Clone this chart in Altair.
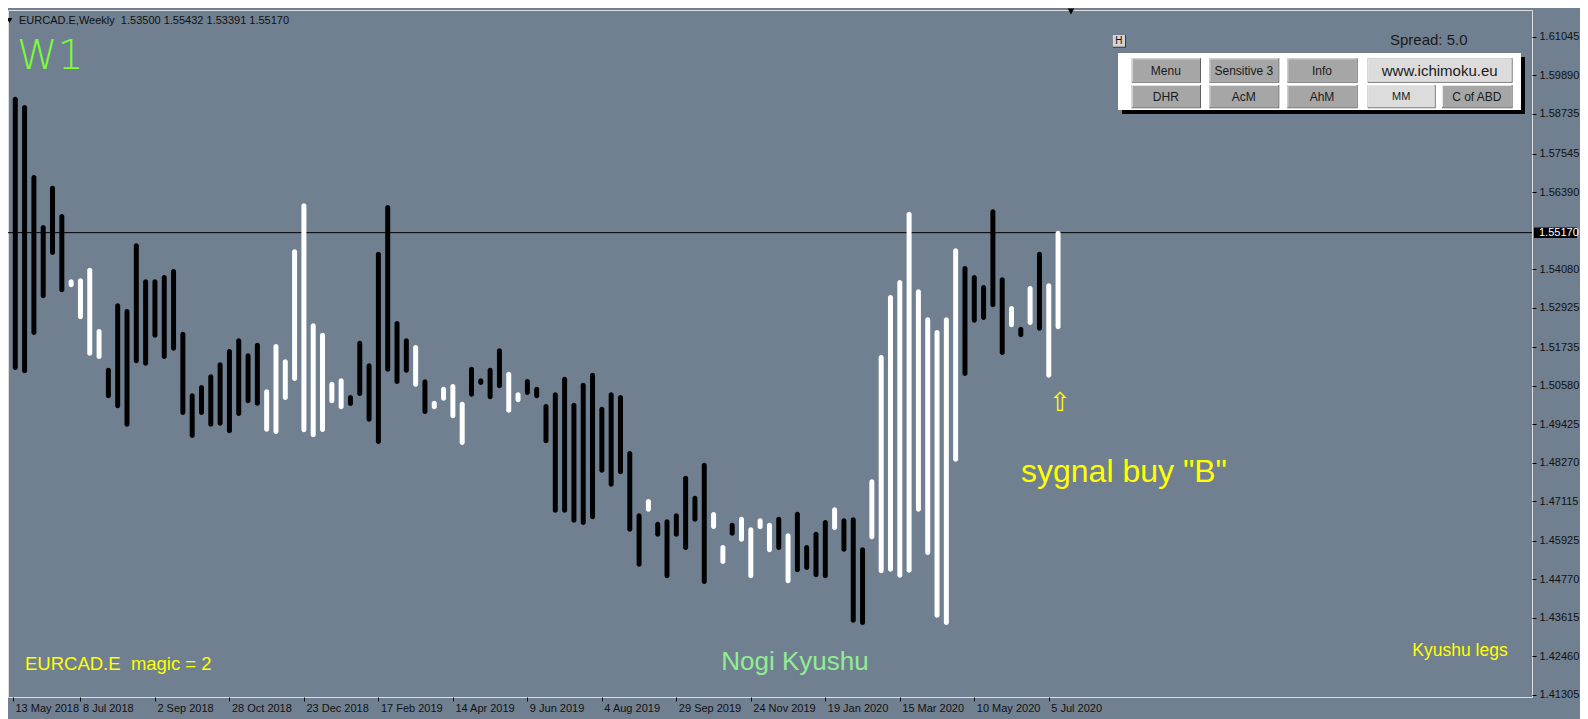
import altair as alt
import pandas as pd

# ---------------- data ----------------
symbol = "EURCAD.E"
timeframe = "Weekly"
ohlc = [1.53500, 1.55432, 1.53391, 1.55170]   # open, high, low, close of last bar
last_price = 1.55170

# weekly legs, first bar = week 1 (20 May 2018), week 0 = 13 May 2018
leg_high = [
    1.5925, 1.5900, 1.5690, 1.5540, 1.5658, 1.5573, 1.5377, 1.5380, 1.5412, 1.5228,
    1.5112, 1.5305, 1.5288, 1.5485, 1.5377, 1.5377, 1.5390, 1.5408, 1.5220, 1.5035,
    1.5060, 1.5092, 1.5128, 1.5168, 1.5200, 1.5155, 1.5187, 1.5047, 1.5183, 1.5137,
    1.5467, 1.5605, 1.5245, 1.5217, 1.5070, 1.5080, 1.5030, 1.5193, 1.5125, 1.5460,
    1.5600, 1.5252, 1.5200, 1.5180, 1.5077, 1.5013, 1.5055, 1.5063, 1.5010, 1.5115,
    1.5080, 1.5112, 1.5170, 1.5100, 1.5038, 1.5078, 1.5055, 1.5003, 1.5038, 1.5085,
    1.5007, 1.5067, 1.5097, 1.4995, 1.5038, 1.5030, 1.4862, 1.4675, 1.4718, 1.4650,
    1.4657, 1.4675, 1.4788, 1.4728, 1.4827, 1.4679, 1.4580, 1.4647, 1.4665, 1.4633,
    1.4660, 1.4647, 1.4665, 1.4615, 1.4680, 1.4580, 1.4620, 1.4655, 1.4693, 1.4660,
    1.4663, 1.4573, 1.4777, 1.5150, 1.5330, 1.5375, 1.5580, 1.5347, 1.5263, 1.5225,
    1.5263, 1.5470, 1.5417, 1.5390, 1.5360, 1.5587, 1.5383, 1.5297, 1.5235, 1.5357,
    1.5460, 1.5365, 1.5523,
]
leg_low = [
    1.5105, 1.5095, 1.5210, 1.5320, 1.5450, 1.5338, 1.5353, 1.5257, 1.5148, 1.5138,
    1.5020, 1.4990, 1.4935, 1.5125, 1.5118, 1.5202, 1.5138, 1.5163, 1.4970, 1.4901,
    1.4970, 1.4935, 1.4938, 1.4915, 1.4967, 1.5005, 1.4998, 1.4920, 1.4913, 1.5015,
    1.5072, 1.4918, 1.4903, 1.4919, 1.5005, 1.4987, 1.4997, 1.5027, 1.4950, 1.4883,
    1.5100, 1.5063, 1.5097, 1.5055, 1.4973, 1.4987, 1.5013, 1.4960, 1.4880, 1.5025,
    1.5060, 1.5017, 1.5050, 1.4977, 1.5008, 1.5030, 1.5020, 1.4885, 1.4677, 1.4677,
    1.4647, 1.4640, 1.4657, 1.4797, 1.4755, 1.4792, 1.4620, 1.4515, 1.4680, 1.4605,
    1.4480, 1.4605, 1.4565, 1.4650, 1.4463, 1.4628, 1.4523, 1.4608, 1.4590, 1.4480,
    1.4627, 1.4558, 1.4565, 1.4465, 1.4498, 1.4505, 1.4483, 1.4480, 1.4625, 1.4560,
    1.4347, 1.4340, 1.4597, 1.4495, 1.4500, 1.4482, 1.4497, 1.4680, 1.4550, 1.4362,
    1.4340, 1.4830, 1.5087, 1.5247, 1.5255, 1.5293, 1.5150, 1.5233, 1.5203, 1.5240,
    1.5223, 1.5082, 1.5227,
]
# K = black leg, W = white leg
leg_kind = list(
    "KKKKKK" "WWWW" "KKKKKKKKKKKKKKKKK" "WWWWWWWWW" "KKKKKKK" "W" "K" "WWWW" "KKKK"
    "WW" "KKKKKKKKKKKKK" "W" "KKKKKK" "WW" "K" "WWWW" "K" "W" "KKKK" "W" "KKK"
    "WWWWWWWWWW" "KKKKK" "W" "K" "W" "K" "WW"
)

x_tick_weeks = [0, 8, 16, 24, 32, 40, 48, 56, 64, 72, 80, 88, 96, 104, 112]
x_tick_labels = ["13 May 2018", "8 Jul 2018", "2 Sep 2018", "28 Oct 2018", "23 Dec 2018",
                 "17 Feb 2019", "14 Apr 2019", "9 Jun 2019", "4 Aug 2019", "29 Sep 2019",
                 "24 Nov 2019", "19 Jan 2020", "15 Mar 2020", "10 May 2020", "5 Jul 2020"]
y_tick_values = [1.61045, 1.59890, 1.58735, 1.57545, 1.56390, 1.54080, 1.52925, 1.51735,
                 1.50580, 1.49425, 1.48270, 1.47115, 1.45925, 1.44770, 1.43615, 1.42460, 1.41305]

row1_buttons = ["Menu", "Sensitive 3", "Info", "www.ichimoku.eu"]
row2_buttons = ["DHR", "AcM", "AhM", "MM", "C of ABD"]

assert len(leg_high) == len(leg_low) == len(leg_kind)

bars = pd.DataFrame({
    "week": list(range(1, len(leg_high) + 1)),
    "high": leg_high,
    "low": leg_low,
    "kind": leg_kind,
})

# ---------------- layout ----------------
W, H = 1524, 687
X_LO, X_HI = 0.755, 163.365
Y_LO, Y_HI = 1.4124, 1.6185
BG = "#708090"
FONT = "Liberation Sans"
YELLOW = "#ffff00"
NB = "\u00a0"

xscale = alt.Scale(domain=[X_LO, X_HI], nice=False, zero=False)
yscale = alt.Scale(domain=[Y_LO, Y_HI], nice=False, zero=False)

label_arr = "[" + ",".join("'%s'" % s for s in x_tick_labels) + "]"
xaxis = alt.Axis(
    values=[max(v, X_LO) for v in x_tick_weeks],
    labelExpr=label_arr + "[round(datum.value/8)]",
    orient="bottom", tickSize=4, tickColor="#000", labelAlign="left", labelBaseline="top",
    labelPadding=1, labelOffset=2, labelFontSize=11, labelColor="#111", labelFont=FONT,
    domain=False, grid=False, title=None, labelOverlap=False, labelFlush=False, labelBound=False,
)
yaxis = alt.Axis(
    values=y_tick_values, format=".5f", orient="right", tickSize=4, tickColor="#000",
    labelPadding=3, labelFontSize=11, labelColor="#111", labelFont=FONT, labelAlign="left",
    domain=False, grid=False, title=None, labelOverlap=False, labelFlush=False, labelBound=False,
)

one = pd.DataFrame({"k": [0]})


def txt(s, x, y, size, color, align="left", baseline="middle", font=FONT, weight="normal"):
    return alt.Chart(one).mark_text(
        text=s, align=align, baseline=baseline, fontSize=size, color=color,
        font=font, fontWeight=weight,
    ).encode(x=alt.value(x), y=alt.value(y))


def box(x0, y0, x1, y1, fill):
    return alt.Chart(one).mark_rect(color=fill).encode(
        x=alt.value(x0), x2=alt.value(x1), y=alt.value(y0), y2=alt.value(y1))


def button(label, x0, y0, x1, y1, fill, size=12):
    return [
        box(x0, y0, x1 + 1, y1 + 1, "#5f5f5f"),
        box(x0, y0, x1, y1, "#e6e6e6"),
        box(x0 + 1, y0 + 1, x1, y1, fill),
        txt(label, (x0 + x1) / 2, (y0 + y1) / 2 + 0.5, size, "#1a1a1a", align="center"),
    ]


# price line (behind the bars)
price_df = pd.DataFrame({"price": [last_price]})
price_line = alt.Chart(price_df).mark_rule(color="#000", strokeWidth=1).encode(
    y=alt.Y("price:Q", scale=yscale, axis=yaxis))

legs = alt.Chart(bars).mark_bar(size=5, cornerRadius=2.5).encode(
    x=alt.X("week:Q", scale=xscale, axis=xaxis),
    y=alt.Y("high:Q", scale=yscale, axis=yaxis),
    y2="low:Q",
    color=alt.Color("kind:N", scale=alt.Scale(domain=["K", "W"], range=["#000000", "#ffffff"]),
                    legend=None),
)

price_tag_bg = alt.Chart(price_df).mark_rule(color="#000", strokeWidth=10.5).encode(
    x=alt.value(1526), x2=alt.value(1569), y=alt.Y("price:Q", scale=yscale, axis=yaxis))
price_tag = alt.Chart(price_df).mark_text(
    align="left", baseline="middle", fontSize=11, color="#fff", font=FONT).encode(
    x=alt.value(1531), y=alt.Y("price:Q", scale=yscale, axis=yaxis),
    text=alt.Text("price:Q", format=".5f"))

header = "%s,%s%s%s" % (symbol, timeframe, NB + NB, " ".join("%.5f" % v for v in ohlc))

layers = [price_line, legs, price_tag_bg, price_tag]
layers += [
    alt.Chart(one).mark_point(shape="triangle-down", filled=True, size=32, color="#000",
                              opacity=1).encode(x=alt.value(1.5), y=alt.value(10.5)),
    txt(header, 11, 10.7, 11, "#111"),
    txt("W1", 9, 59, 41, "#7dfc3a", baseline="alphabetic", font="DejaVu Sans", weight=200),
    alt.Chart(one).mark_point(shape="triangle-down", filled=True, size=45, color="#000",
                              opacity=1).encode(x=alt.value(1063), y=alt.value(1.5)),
    # H button + spread
    box(1104.7, 25, 1118, 37.7, "#3a3a3a"),
    box(1104.7, 25, 1117, 36.7, "#d4d4d4"),
    txt("H", 1110.9, 31, 10, "#111", align="center"),
    txt("Spread: 5.0", 1382, 29.5, 15, "#1a1a1a"),
    # panel
    box(1114, 47, 1517, 104, "#000"),
    box(1110, 43, 1513, 100, "#ffffff"),
]

col_x = [(1123.7, 1192), (1201.3, 1270.3), (1279.3, 1348.7)]
r1 = (48.3, 71.7)
r2 = (75, 97.3)
GRAY = "#a6a6a6"
LIGHT = "#dcdcdc"
for (x0, x1), lab in zip(col_x, row1_buttons[:3]):
    layers += button(lab, x0, r1[0], x1, r1[1], GRAY)
layers += button(row1_buttons[3], 1359.7, r1[0], 1503.6, r1[1], LIGHT, size=15)
for (x0, x1), lab in zip(col_x, row2_buttons[:3]):
    layers += button(lab, x0, r2[0], x1, r2[1], GRAY)
layers += button(row2_buttons[3], 1359.7, r2[0], 1426.7, r2[1], LIGHT, size=11)
layers += button(row2_buttons[4], 1434, r2[0], 1503.6, r2[1], GRAY)

layers += [
    txt("%s%smagic = 2" % (symbol, NB + NB), 17, 653.6, 18.5, YELLOW),
    txt("Nogi Kyushu", 787, 651.5, 26, "#90ee90", align="center"),
    txt("Kyushu legs", 1452, 641, 17.5, YELLOW, align="center"),
    txt('sygnal buy "B"', 1013, 472, 32, YELLOW, baseline="alphabetic"),
    txt("\u21e7", 1052, 393, 26, YELLOW, align="center", font="DejaVu Sans"),
]

chart = alt.layer(*layers).properties(
    width=W, height=H,
    autosize=alt.AutoSizeParams(type="none"),
    padding={"left": 0, "top": 2, "right": 48, "bottom": 22},
    background=BG,
).configure_view(stroke="#000", strokeWidth=1).configure(font=FONT)

chart.save("out.html", embed_options={"renderer": "svg", "actions": False})
